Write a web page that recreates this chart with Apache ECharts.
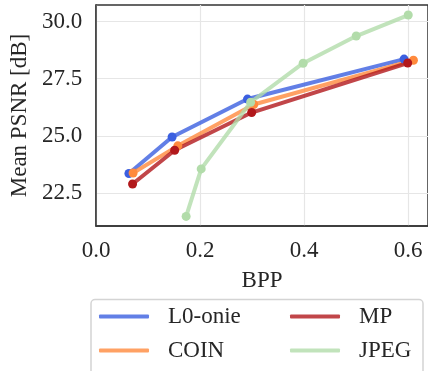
<!DOCTYPE html>
<html>
<head>
<meta charset="utf-8">
<script src="https://cdn.jsdelivr.net/npm/echarts@6/dist/echarts.min.js"></script>
<style>
  html, body { margin: 0; padding: 0; background: #fff; }
  #chart { width: 428px; height: 371px; }
</style>
</head>
<body>
<div id="chart"></div>
<script>
// values
var seriesNames = ['L0-onie', 'COIN', 'MP', 'JPEG'];
var colors = ['#3b5fe0', '#ff8a3d', '#b2181b', '#b2dcaa'];

var bppL0 = [0.063, 0.146, 0.291, 0.592];
var psnrL0 = [23.35, 24.95, 26.61, 28.36];
var bppCoin = [0.071, 0.157, 0.303, 0.610];
var psnrCoin = [23.37, 24.56, 26.37, 28.31];
var bppMp = [0.070, 0.151, 0.299, 0.599];
var psnrMp = [22.89, 24.37, 26.02, 28.19];
var bppJpeg = [0.173, 0.202, 0.297, 0.398, 0.500, 0.600];
var psnrJpeg = [21.47, 23.55, 26.47, 28.18, 29.37, 30.29];

var xTicks = [0.0, 0.2, 0.4, 0.6];
var yTicks = [22.5, 25.0, 27.5, 30.0];

var font = '"Times New Roman", "Liberation Serif", Tinos, serif';
var textColor = '#262626';

function pairs(xs, ys) {
    var out = [];
    for (var i = 0; i < xs.length; i++) out.push([xs[i], ys[i]]);
    return out;
}

var allX = [bppL0, bppCoin, bppMp, bppJpeg];
var allY = [psnrL0, psnrCoin, psnrMp, psnrJpeg];

var series = seriesNames.map(function (name, i) {
    return {
        name: name,
        type: 'line',
        data: pairs(allX[i], allY[i]),
        symbol: 'circle',
        symbolSize: 9,
        showSymbol: true,
        lineStyle: { width: 4, color: colors[i], opacity: 0.8, cap: 'round', join: 'round' },
        itemStyle: { color: colors[i] },
        emphasis: { disabled: true },
        animation: false
    };
});

function legendBlock(names, left) {
    return {
        orient: 'vertical',
        left: left,
        top: 305,
        padding: 0,
        itemGap: 11,
        itemWidth: 50,
        itemHeight: 4,
        icon: 'roundRect',
        data: names,
        itemStyle: { opacity: 0.8 },
        textStyle: { fontFamily: font, fontSize: 23, color: textColor, padding: [0, 0, 0, 14] },
        selectedMode: false
    };
}

var chart = echarts.init(document.getElementById('chart'));
chart.setOption({
    backgroundColor: '#fff',
    animation: false,
    grid: {
        left: 95, top: 5, right: -2, bottom: 145,
        show: true, borderColor: '#333', borderWidth: 1.5
    },
    xAxis: {
        type: 'value',
        min: 0, max: 0.638,
        name: 'BPP',
        nameLocation: 'middle',
        nameGap: 43,
        nameTextStyle: { fontFamily: font, fontSize: 23, color: textColor },
        axisLine: { show: true, lineStyle: { color: '#333', width: 1.5 } },
        axisTick: { show: false, customValues: xTicks },
        axisLabel: {
            customValues: xTicks,
            fontFamily: font, fontSize: 23, color: textColor, margin: 13,
            formatter: function (v) { return v.toFixed(1); }
        },
        splitLine: { show: true, lineStyle: { color: '#e6e6e6', width: 1.2 } }
    },
    yAxis: {
        type: 'value',
        min: 21.05, max: 30.73,
        name: 'Mean PSNR [dB]',
        nameLocation: 'middle',
        nameGap: 63,
        nameTextStyle: { fontFamily: font, fontSize: 23, color: textColor },
        axisLine: { show: true, lineStyle: { color: '#333', width: 1.5 } },
        axisTick: { show: false, customValues: yTicks },
        axisLabel: {
            customValues: yTicks,
            fontFamily: font, fontSize: 23, color: textColor, margin: 14,
            formatter: function (v) { return v.toFixed(1); }
        },
        splitLine: { show: true, lineStyle: { color: '#e6e6e6', width: 1.2 } }
    },
    legend: [
        legendBlock(['L0-onie', 'COIN'], 99),
        legendBlock(['MP', 'JPEG'], 290)
    ],
    graphic: [{
        type: 'rect',
        shape: { x: 91, y: 299.5, width: 332, height: 90, r: 4 },
        style: { fill: '#fff', stroke: '#d4d4d4', lineWidth: 1.5 },
        z: -1,
        silent: true
    }],
    series: series
});
</script>
</body>
</html>
